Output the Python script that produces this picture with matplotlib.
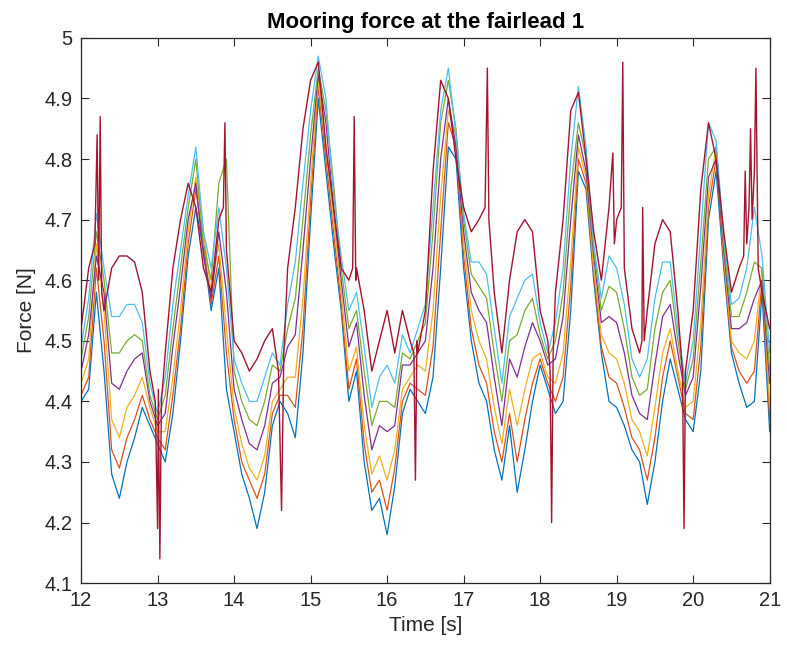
import numpy as np
import matplotlib
matplotlib.use("Agg")
from matplotlib import pyplot as plt

# sample times for the six smoother series (0.1 s step, 12 .. 21 s)
time = np.round(np.arange(120, 211) / 10.0, 1)

force_blue = [4.40, 4.42, 4.58, 4.45, 4.28, 4.24, 4.30, 4.34, 4.39, 4.36,
              4.33, 4.30, 4.38, 4.50, 4.64, 4.72, 4.65, 4.55, 4.62, 4.42,
              4.35, 4.28, 4.24, 4.19, 4.25, 4.36, 4.40, 4.38, 4.34, 4.48,
              4.70, 4.90, 4.78, 4.66, 4.55, 4.40, 4.45, 4.30, 4.22, 4.24,
              4.18, 4.26, 4.38, 4.42, 4.40, 4.38, 4.44, 4.62, 4.82, 4.80,
              4.62, 4.50, 4.43, 4.40, 4.32, 4.27, 4.36, 4.25, 4.32, 4.40,
              4.46, 4.42, 4.38, 4.40, 4.55, 4.78, 4.75, 4.60, 4.48, 4.40,
              4.39, 4.36, 4.32, 4.30, 4.23, 4.30, 4.40, 4.47, 4.42, 4.37,
              4.35, 4.45, 4.70, 4.78, 4.62, 4.48, 4.43, 4.39, 4.40, 4.58,
              4.35]
force_orange = [4.41, 4.44, 4.62, 4.50, 4.32, 4.29, 4.34, 4.37, 4.41, 4.37,
                4.34, 4.32, 4.41, 4.52, 4.66, 4.75, 4.66, 4.56, 4.64, 4.48,
                4.37, 4.30, 4.27, 4.24, 4.28, 4.38, 4.41, 4.41, 4.39, 4.52,
                4.73, 4.92, 4.80, 4.68, 4.56, 4.42, 4.47, 4.33, 4.25, 4.27,
                4.22, 4.29, 4.40, 4.43, 4.42, 4.41, 4.49, 4.68, 4.86, 4.82,
                4.64, 4.52, 4.46, 4.43, 4.35, 4.30, 4.38, 4.30, 4.37, 4.43,
                4.47, 4.43, 4.40, 4.44, 4.59, 4.80, 4.76, 4.61, 4.49, 4.44,
                4.43, 4.39, 4.34, 4.32, 4.27, 4.34, 4.44, 4.50, 4.44, 4.38,
                4.37, 4.49, 4.72, 4.80, 4.63, 4.49, 4.45, 4.43, 4.45, 4.60,
                4.37]
force_yellow = [4.43, 4.47, 4.66, 4.55, 4.37, 4.34, 4.39, 4.41, 4.44, 4.39,
                4.35, 4.35, 4.44, 4.55, 4.68, 4.77, 4.68, 4.58, 4.66, 4.52,
                4.39, 4.33, 4.29, 4.27, 4.31, 4.40, 4.42, 4.44, 4.44, 4.57,
                4.76, 4.93, 4.82, 4.70, 4.58, 4.45, 4.49, 4.36, 4.28, 4.31,
                4.27, 4.32, 4.42, 4.44, 4.46, 4.45, 4.55, 4.74, 4.88, 4.84,
                4.66, 4.55, 4.50, 4.47, 4.39, 4.33, 4.42, 4.36, 4.42, 4.47,
                4.48, 4.44, 4.43, 4.48, 4.63, 4.82, 4.77, 4.62, 4.51, 4.48,
                4.47, 4.43, 4.37, 4.35, 4.31, 4.39, 4.48, 4.52, 4.45, 4.39,
                4.40, 4.53, 4.74, 4.82, 4.64, 4.50, 4.48, 4.47, 4.50, 4.62,
                4.39]
force_purple = [4.45, 4.51, 4.64, 4.58, 4.43, 4.42, 4.45, 4.47, 4.48, 4.40,
                4.36, 4.38, 4.49, 4.59, 4.70, 4.76, 4.64, 4.57, 4.68, 4.58,
                4.42, 4.37, 4.33, 4.32, 4.36, 4.43, 4.44, 4.49, 4.51, 4.65,
                4.80, 4.94, 4.86, 4.72, 4.60, 4.49, 4.53, 4.41, 4.32, 4.36,
                4.35, 4.36, 4.46, 4.46, 4.48, 4.50, 4.62, 4.80, 4.90, 4.82,
                4.68, 4.58, 4.55, 4.53, 4.44, 4.36, 4.47, 4.44, 4.49, 4.53,
                4.50, 4.46, 4.47, 4.54, 4.70, 4.84, 4.78, 4.64, 4.53, 4.54,
                4.53, 4.48, 4.41, 4.38, 4.37, 4.46, 4.54, 4.56, 4.48, 4.41,
                4.44, 4.59, 4.77, 4.80, 4.65, 4.52, 4.52, 4.53, 4.57, 4.60,
                4.43]
force_green = [4.47, 4.54, 4.68, 4.60, 4.48, 4.48, 4.50, 4.51, 4.50, 4.41,
               4.37, 4.41, 4.52, 4.62, 4.72, 4.80, 4.66, 4.60, 4.76, 4.80,
               4.45, 4.40, 4.37, 4.36, 4.40, 4.46, 4.45, 4.52, 4.57, 4.70,
               4.84, 4.95, 4.88, 4.76, 4.62, 4.52, 4.55, 4.45, 4.36, 4.40,
               4.40, 4.39, 4.48, 4.47, 4.50, 4.53, 4.68, 4.86, 4.93, 4.85,
               4.70, 4.61, 4.59, 4.57, 4.48, 4.40, 4.50, 4.51, 4.55, 4.57,
               4.51, 4.47, 4.50, 4.58, 4.75, 4.86, 4.80, 4.65, 4.55, 4.59,
               4.58, 4.52, 4.44, 4.41, 4.42, 4.52, 4.58, 4.60, 4.50, 4.42,
               4.47, 4.63, 4.80, 4.82, 4.66, 4.54, 4.54, 4.58, 4.63, 4.62,
               4.45]
force_cyan = [4.49, 4.57, 4.71, 4.62, 4.54, 4.54, 4.56, 4.56, 4.53, 4.43,
              4.38, 4.44, 4.56, 4.65, 4.74, 4.82, 4.68, 4.62, 4.72, 4.62,
              4.47, 4.43, 4.40, 4.40, 4.44, 4.48, 4.46, 4.56, 4.63, 4.76,
              4.88, 4.97, 4.90, 4.74, 4.64, 4.55, 4.58, 4.49, 4.39, 4.44,
              4.46, 4.43, 4.51, 4.48, 4.52, 4.56, 4.72, 4.88, 4.95, 4.84,
              4.71, 4.63, 4.63, 4.61, 4.52, 4.43, 4.54, 4.57, 4.60, 4.61,
              4.53, 4.48, 4.53, 4.62, 4.80, 4.92, 4.82, 4.66, 4.57, 4.64,
              4.62, 4.56, 4.47, 4.44, 4.47, 4.57, 4.63, 4.63, 4.52, 4.43,
              4.50, 4.68, 4.86, 4.83, 4.67, 4.56, 4.57, 4.62, 4.72, 4.64,
              4.48]

# the top (dark red) series has its own, denser samples because of the spikes
time_red = [12.0, 12.1, 12.18, 12.21, 12.23, 12.25, 12.27, 12.3, 12.4, 12.5,
            12.6, 12.7, 12.8, 12.9, 12.97, 13.0, 13.01, 13.03, 13.05, 13.1,
            13.2, 13.3, 13.4, 13.5, 13.6, 13.7, 13.8, 13.86, 13.88, 13.9,
            14.0, 14.1, 14.2, 14.3, 14.4, 14.5, 14.58, 14.62, 14.65, 14.7,
            14.8, 14.9, 15.0, 15.1, 15.2, 15.3, 15.4, 15.5, 15.55, 15.57,
            15.59, 15.6, 15.7, 15.8, 15.9, 16.0, 16.1, 16.2, 16.3, 16.35,
            16.37, 16.39, 16.4, 16.5, 16.6, 16.7, 16.8, 16.9, 17.0, 17.1,
            17.2, 17.28, 17.31, 17.33, 17.4, 17.5, 17.6, 17.7, 17.8, 17.9,
            18.0, 18.1, 18.13, 18.15, 18.17, 18.2, 18.3, 18.4, 18.5, 18.6,
            18.7, 18.8, 18.9, 18.95, 18.97, 19.0, 19.06, 19.08, 19.1, 19.2,
            19.3, 19.33, 19.34, 19.36, 19.4, 19.5, 19.6, 19.7, 19.8, 19.86,
            19.88, 19.9, 20.0, 20.1, 20.2, 20.3, 20.4, 20.5, 20.6, 20.66,
            20.68, 20.7, 20.73, 20.75, 20.77, 20.8, 20.82, 20.85, 20.9, 21.0]
force_red = [4.52, 4.62, 4.66, 4.84, 4.60, 4.87, 4.58, 4.55, 4.62, 4.64,
             4.64, 4.63, 4.58, 4.45, 4.40, 4.19, 4.42, 4.14, 4.40, 4.48,
             4.62, 4.70, 4.76, 4.72, 4.62, 4.58, 4.70, 4.72, 4.86, 4.65,
             4.50, 4.48, 4.45, 4.47, 4.50, 4.52, 4.45, 4.22, 4.48, 4.62,
             4.72, 4.85, 4.93, 4.96, 4.82, 4.72, 4.62, 4.60, 4.62, 4.87,
             4.60, 4.62, 4.55, 4.45, 4.50, 4.55, 4.48, 4.55, 4.50, 4.48,
             4.27, 4.50, 4.48, 4.55, 4.78, 4.93, 4.90, 4.80, 4.72, 4.68,
             4.70, 4.72, 4.95, 4.70, 4.58, 4.48, 4.60, 4.68, 4.70, 4.68,
             4.55, 4.50, 4.45, 4.20, 4.48, 4.58, 4.70, 4.88, 4.91, 4.80,
             4.68, 4.60, 4.72, 4.81, 4.66, 4.70, 4.72, 4.96, 4.62, 4.52,
             4.48, 4.50, 4.72, 4.50, 4.55, 4.66, 4.70, 4.68, 4.55, 4.45,
             4.19, 4.45, 4.55, 4.75, 4.86, 4.80, 4.68, 4.58, 4.62, 4.64,
             4.78, 4.66, 4.72, 4.85, 4.70, 4.78, 4.95, 4.62, 4.58, 4.52]

MATLAB_COLORS = ['#0072BD', '#D95319', '#EDB120', '#7E2F8E',
                 '#77AC30', '#4DBEEE', '#A2142F']
TEXT_COLOR = '#262626'


def main():
    plt.rcParams['font.family'] = ['Liberation Sans', 'DejaVu Sans']

    fig = plt.figure(figsize=(7.87, 6.53), dpi=100)
    ax = fig.add_axes([0.103, 0.107, 0.875, 0.835])

    smooth = [force_blue, force_orange, force_yellow, force_purple,
              force_green, force_cyan]
    for values, color in zip(smooth, MATLAB_COLORS):
        ax.plot(time, values, color=color, linewidth=0.9)
    ax.plot(time_red, force_red, color=MATLAB_COLORS[6], linewidth=1.0)

    ax.set_xlim(12, 21)
    ax.set_ylim(4.1, 5.0)
    ax.set_xticks(range(12, 22))
    yticks = np.round(np.arange(41, 51) / 10.0, 1)
    ax.set_yticks(yticks)
    ax.set_yticklabels(['%g' % v for v in yticks])

    ax.tick_params(direction='in', top=True, right=True, length=5.5,
                   width=0.8, labelsize=14.5, colors=TEXT_COLOR, pad=6)
    for spine in ax.spines.values():
        spine.set_color(TEXT_COLOR)
        spine.set_linewidth(0.9)

    ax.set_xlabel('Time [s]', fontsize=15, color=TEXT_COLOR, labelpad=4)
    ax.set_ylabel('Force [N]', fontsize=15, color=TEXT_COLOR, labelpad=6)
    ax.set_title('Mooring force at the fairlead 1', fontsize=16,
                 fontweight='bold', color='black', pad=7)

    fig.savefig('out.png', dpi=100)


if __name__ == "__main__":
    main()
